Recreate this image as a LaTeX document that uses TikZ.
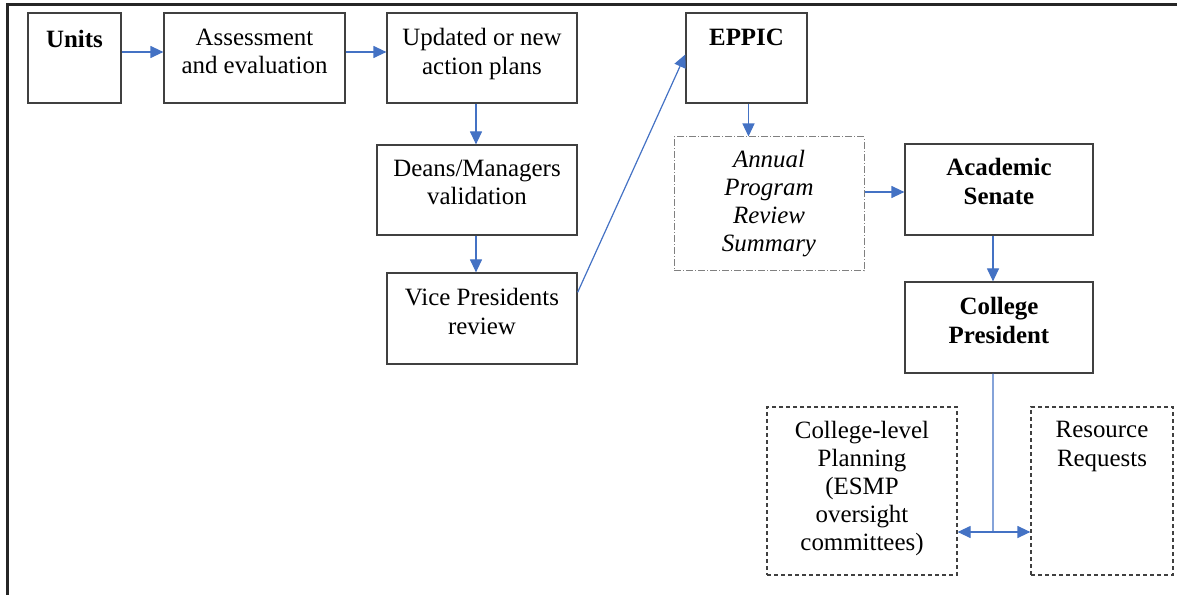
\documentclass[tikz,border=0pt]{standalone}
\usepackage{fontspec}
\setmainfont{Liberation Serif}
\usetikzlibrary{arrows.meta,fit}

\definecolor{flowblue}{HTML}{4472C4}
\definecolor{boxline}{HTML}{404040}

\tikzset{
  box/.style={draw=boxline, line width=1.2bp, inner sep=0pt},
  dashbox/.style={box, dash pattern=on 4bp off 3bp},
  dotdashbox/.style={box, draw=gray, line width=1bp, dash pattern=on 7bp off 2bp on 1bp off 2bp},
  txt/.style={anchor=north, align=center, inner sep=0pt,
              font=\fontsize{25}{29}\selectfont},
  flow/.style={draw=flowblue, line width=1.2bp,
               -{Triangle[length=13bp,width=12bp]}, color=flowblue},
}

\begin{document}
\begin{tikzpicture}[x=1bp, y=-1bp]
  \useasboundingbox (0,0) rectangle (1177,595);

  % outer frame (top and left edges only)
  \draw[line width=2.5bp, black!85] (7.5,595) -- (7.5,4.5) -- (1177,4.5);

  % boxes
  \node[box, fit={(28,13) (121,103)}] (units) {};
  \node[box, fit={(164,13) (345,103)}] (assess) {};
  \node[box, fit={(387,13) (577,103)}] (plans) {};
  \node[box, fit={(377,145) (577,235)}] (deans) {};
  \node[box, fit={(387,273) (577,364)}] (vp) {};
  \node[box, fit={(686,13) (807,103)}] (eppic) {};
  \node[dotdashbox, fit={(674,137) (864,271)}] (annual) {};
  \node[box, fit={(905,144) (1093,235)}] (senate) {};
  \node[box, fit={(905,282) (1093,373)}] (pres) {};
  \node[dashbox, fit={(767,407) (957,575)}] (planning) {};
  \node[dashbox, fit={(1031,407) (1173,575)}] (resource) {};

  % box texts
  \node[txt, font=\fontsize{25}{29}\selectfont\bfseries] (unitsT) at ([yshift=-18bp]units.north) {Units};
  \node[txt] (assessT) at ([yshift=-16bp]assess.north) {Assessment\\and evaluation};
  \node[txt] (plansT) at ([yshift=-16bp]plans.north) {Updated or new\\action plans};
  \node[txt] (deansT) at ([yshift=-15bp]deans.north) {Deans/Managers\\validation};
  \node[txt] (vpT) at ([yshift=-16bp]vp.north) {Vice Presidents\\review};
  \node[txt, font=\fontsize{25}{29}\selectfont\bfseries] (eppicT) at ([yshift=-16bp]eppic.north) {EPPIC};
  \node[txt, font=\fontsize{25}{28}\selectfont\itshape] (annualT) at ([yshift=-14bp]annual.north) {Annual\\Program\\Review\\Summary};
  \node[txt, font=\fontsize{25}{29}\selectfont\bfseries] (senateT) at ([yshift=-15bp]senate.north) {Academic\\Senate};
  \node[txt, font=\fontsize{25}{29}\selectfont\bfseries] (presT) at ([yshift=-16bp]pres.north) {College\\President};
  \node[txt, font=\fontsize{25}{28}\selectfont] (planningT) at ([yshift=-15bp]planning.north) {College-level\\Planning\\(ESMP\\oversight\\committees)};
  \node[txt] (resourceT) at ([yshift=-15bp]resource.north) {Resource\\Requests};

  % connectors
  \draw[flow] (units.east |- 0,52) -- (assess.west |- 0,52);
  \draw[flow] (assess.east |- 0,52) -- (plans.west |- 0,52);
  \draw[flow] ([xshift=-6bp]plans.south) -- ([xshift=-6bp]plans.south |- deans.north);
  \draw[flow] ([xshift=-6bp]plans.south |- deans.south) -- ([xshift=-6bp]plans.south |- vp.north);
  \draw[flow] ([yshift=-20bp]vp.north east) -- ([yshift=-42bp]eppic.north west);
  \draw[flow] ([xshift=2bp]eppic.south) -- ([xshift=2bp]eppic.south |- annual.north);
  \draw[flow] (annual.east |- 0,192) -- (senate.west |- 0,192);
  \draw[flow] ([xshift=-6bp]senate.south) -- ([xshift=-6bp]pres.north);
  \coordinate (split) at (993,532);
  \draw[draw=flowblue, line width=1.2bp] ([xshift=-6bp]pres.south) -- (split);
  \draw[flow] (split) -- (planning.east |- split);
  \draw[flow] (split) -- (resource.west |- split);
\end{tikzpicture}
\end{document}
